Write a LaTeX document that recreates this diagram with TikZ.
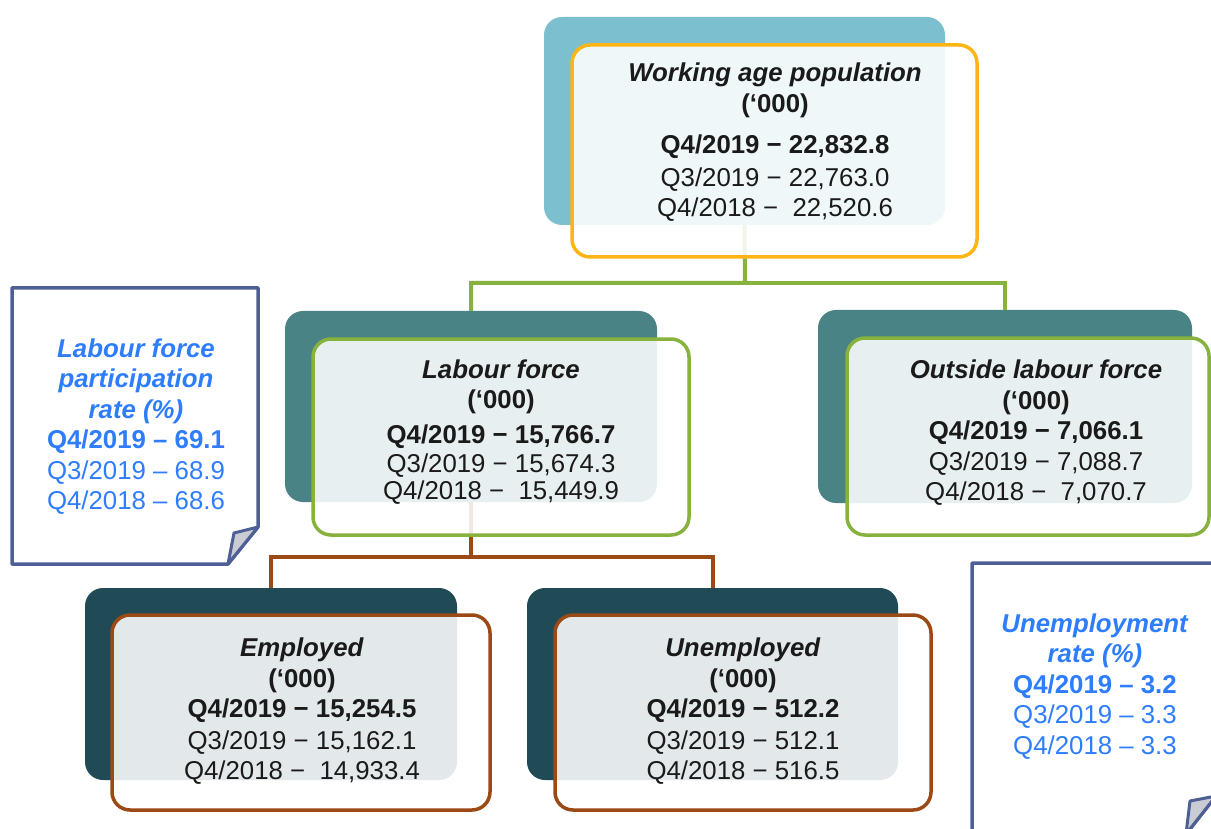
\documentclass[tikz,border=0pt]{standalone}
\usepackage{fontspec}
\setmainfont{Liberation Sans}
\begin{document}
\begin{tikzpicture}[x=1pt,y=-1pt,
  backbox/.style={rounded corners=18pt, inner sep=0pt, draw=none},
  frontbox/.style={rounded corners=18pt, inner sep=0pt, line width=3.5pt, fill=white, fill opacity=0.88},
  boxtext/.style={align=center, text=txtdark, inner sep=0pt, font=\fontsize{25.8}{30.5}\selectfont},
  notetext/.style={align=center, text=notetxt, inner sep=0pt, font=\fontsize{25.8}{30.5}\selectfont},
  notepath/.style={draw=noteborder, line width=3.5pt, fill=white, line join=round},
  flappath/.style={draw=noteborder, line width=3pt, fill=flapgrey, line join=round},
  greenline/.style={draw=lfgreen, line width=4pt},
  brownline/.style={draw=embrown, line width=4pt}]
\definecolor{lightteal}{HTML}{7CC0D0}
\definecolor{midteal}{HTML}{4A8385}
\definecolor{darkteal}{HTML}{1F4A56}
\definecolor{wapor}{HTML}{FDB515}
\definecolor{lfgreen}{HTML}{88B23E}
\definecolor{embrown}{HTML}{9C4A15}
\definecolor{noteborder}{HTML}{4E5F96}
\definecolor{notetxt}{HTML}{2E7DFF}
\definecolor{flapgrey}{HTML}{C9CCD3}
\definecolor{txtdark}{HTML}{1A1A1A}
\useasboundingbox (0,0) rectangle (1211,829);
\clip (0,0) rectangle (1211,829);

% back boxes
\node[backbox, fill=lightteal, minimum width=401pt, minimum height=208pt] (wapB) at (744.5,121) {};
\node[backbox, fill=midteal, minimum width=372pt, minimum height=191pt] (lfB) at (471,406.5) {};
\node[backbox, fill=midteal, minimum width=374pt, minimum height=193pt] (olfB) at (1005,406.5) {};
\node[backbox, fill=darkteal, minimum width=372pt, minimum height=192pt] (empB) at (271,684) {};
\node[backbox, fill=darkteal, minimum width=371pt, minimum height=192pt] (unB) at (712.5,684) {};

% connectors
\coordinate (busA) at (745,283);
\coordinate (busB) at (471,557);
\draw[greenline] (wapB.south) -- (busA) -| (lfB.north);
\draw[greenline] (busA) -| (olfB.north);
\draw[brownline] (lfB.south) -- (busB) -| (empB.north);
\draw[brownline] (busB) -| (unB.north);

% front boxes
\node[frontbox, draw=wapor, minimum width=405pt, minimum height=212pt] (wap) at (774.5,151) {};
\node[frontbox, draw=lfgreen, minimum width=376pt, minimum height=196pt] (lf) at (501,437) {};
\node[frontbox, draw=lfgreen, minimum width=362pt, minimum height=197pt] (olf) at (1028,436.5) {};
\node[frontbox, draw=embrown, minimum width=378pt, minimum height=195pt] (emp) at (301,712.5) {};
\node[frontbox, draw=embrown, minimum width=376pt, minimum height=195pt] (un) at (743,712.5) {};

% box texts
\node[boxtext] (wapT) at (775,142.5) {\textbf{\textit{Working age population}}\\ \textbf{(‘000)}\\[11pt] \textbf{Q4/2019 − 22,832.8}\\[2pt] Q3/2019 − 22,763.0\\ Q4/2018 −~ 22,520.6};
\node[boxtext] (lfT) at (501,432) {\textbf{\textit{Labour force}}\\ \textbf{(‘000)}\\[4pt] \textbf{Q4/2019 − 15,766.7}\\[-1.5pt] Q3/2019 − 15,674.3\\[-3.5pt] Q4/2018 −~ 15,449.9};
\node[boxtext] (olfT) at (1036,433) {\textbf{\textit{Outside labour force}}\\ \textbf{(‘000)}\\ \textbf{Q4/2019 − 7,066.1}\\ Q3/2019 − 7,088.7\\ Q4/2018 −~ 7,070.7};
\node[boxtext] (empT) at (302,711.5) {\textbf{\textit{Employed}}\\ \textbf{(‘000)}\\ \textbf{Q4/2019 − 15,254.5}\\[1pt] Q3/2019 − 15,162.1\\ Q4/2018 −~ 14,933.4};
\node[boxtext] (unT) at (743,711.5) {\textbf{\textit{Unemployed}}\\ \textbf{(‘000)}\\ \textbf{Q4/2019 − 512.2}\\[1pt] Q3/2019 − 512.1\\ Q4/2018 − 516.5};

% left note
\path[notepath] (12,288) -- (258,288) -- (258,527) -- (228,564) -- (12,564) -- cycle;
\path[flappath] (258,527) -- (234,533) -- (228,564) -- cycle;
\node[notetext] (lfpr) at (136,426.5) {\textbf{\textit{Labour force}}\\ \textbf{\textit{participation}}\\ \textbf{\textit{rate (\%)}}\\ \textbf{Q4/2019 – 69.1}\\ Q3/2019 – 68.9\\ Q4/2018 – 68.6};

% right note
\path[notepath] (972,563) -- (1216,563) -- (1216,796) -- (1186,834) -- (972,834) -- cycle;
\path[flappath] (1216,796) -- (1190,801) -- (1186,834) -- cycle;
\node[notetext] (ur) at (1095,686.5) {\textbf{\textit{Unemployment}}\\ \textbf{\textit{rate (\%)}}\\ \textbf{Q4/2019 – 3.2}\\ Q3/2019 – 3.3\\ Q4/2018 – 3.3};
\end{tikzpicture}
\end{document}
